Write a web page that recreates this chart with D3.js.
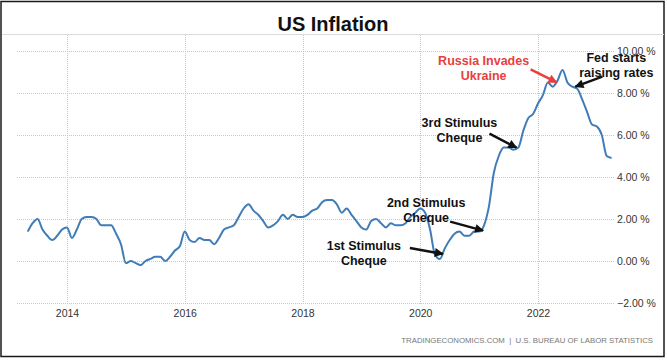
<!DOCTYPE html>
<html>
<head>
<meta charset="utf-8">
<script src="https://cdn.jsdelivr.net/npm/d3@7"></script>
<style>
  html, body { margin: 0; padding: 0; background: #fff; }
  svg { display: block; }
</style>
</head>
<body>
<svg id="chart" width="667" height="364"></svg>
<script>
// ---------------- DATA ----------------
const title = "US Inflation";
const source = "TRADINGECONOMICS.COM  |  U.S. BUREAU OF LABOR STATISTICS";
// US CPI YoY %, monthly (null = not shown)
const cpi2013 = [null, null, null, null, 1.4, 1.8, 2.0, 1.5, 1.2, 1.0, 1.2, 1.5];
const cpi2014 = [1.6, 1.1, 1.5, 2.0, 2.1, 2.1, 2.0, 1.7, 1.7, 1.7, 1.3, 0.8];
const cpi2015 = [-0.1, 0.0, -0.1, -0.2, 0.0, 0.1, 0.2, 0.2, 0.0, 0.2, 0.5, 0.7];
const cpi2016 = [1.4, 1.0, 0.9, 1.1, 1.0, 1.0, 0.8, 1.1, 1.5, 1.6, 1.7, 2.1];
const cpi2017 = [2.5, 2.7, 2.4, 2.2, 1.9, 1.6, 1.7, 1.9, 2.2, 2.0, 2.2, 2.1];
const cpi2018 = [2.1, 2.2, 2.4, 2.5, 2.8, 2.9, 2.9, 2.7, 2.3, 2.5, 2.2, 1.9];
const cpi2019 = [1.6, 1.5, 1.9, 2.0, 1.8, 1.6, 1.8, 1.7, 1.7, 1.8, 2.1, 2.3];
const cpi2020 = [2.5, 2.3, 1.5, 0.3, 0.1, 0.6, 1.0, 1.3, 1.4, 1.2, 1.2, 1.4];
const cpi2021 = [1.4, 1.7, 2.6, 4.2, 5.0, 5.4, 5.4, 5.3, 5.4, 6.2, 6.8, 7.0];
const cpi2022 = [7.5, 7.9, 8.5, 8.3, 8.6, 9.1, 8.5, 8.3, 8.2, 7.7, 7.1, 6.5];
const cpi2023 = [6.4, 6.0, 5.0, 4.9];
const seriesByYear = [
  [2013, cpi2013], [2014, cpi2014], [2015, cpi2015], [2016, cpi2016],
  [2017, cpi2017], [2018, cpi2018], [2019, cpi2019], [2020, cpi2020],
  [2021, cpi2021], [2022, cpi2022], [2023, cpi2023]
];
const xTicks = [2014, 2016, 2018, 2020, 2022];
const yTicks = [-2, 0, 2, 4, 6, 8, 10];

// annotations: target month on the line + label
const annotations = [
  { lines: ["1st Stimulus", "Cheque"], year: 2020, month: 5, color: "#111",
    tip: [3, -5], from: [-33, -6], text: [-79, -8] },
  { lines: ["2nd Stimulus", "Cheque"], year: 2021, month: 1, color: "#111",
    tip: [4, -1], from: [-33, -9], text: [-57, -28] },
  { lines: ["3rd Stimulus", "Cheque"], year: 2021, month: 8, color: "#111",
    tip: [3, -2], from: [-27, -14], text: [-57, -25] },
  { lines: ["Russia Invades", "Ukraine"], year: 2022, month: 5, color: "#e8403f",
    tip: [-1, 2], from: [-26, -13], text: [-73, -22] },
  { lines: ["Fed starts", "raising rates"], year: 2022, month: 8, color: "#111",
    tip: [3, 0], from: [27, -10], text: [41, -29] }
];

// ---------------- BUILD ----------------
const data = [];
seriesByYear.forEach(([yr, arr]) => {
  arr.forEach((v, i) => {
    if (v !== null) data.push({ t: yr + i / 12, v: v });
  });
});

const svg = d3.select("#chart");
const W = 667, H = 364;

const x = d3.scaleLinear().domain([2014, 2022]).range([67, 538]);
const y = d3.scaleLinear().domain([-2, 10]).range([303, 51]);

// frame
svg.append("rect").attr("x", 1).attr("y", 1.5).attr("width", 663).attr("height", 355)
  .attr("fill", "#fff").attr("stroke", "#1a1a1a").attr("stroke-width", 1.5);

// title
svg.append("text").attr("x", 333).attr("y", 31)
  .attr("text-anchor", "middle")
  .attr("font-family", "Liberation Sans, Arial, sans-serif")
  .attr("font-weight", "bold").attr("font-size", 20).attr("fill", "#111")
  .text(title);
svg.append("line").attr("x1", 2).attr("x2", 664).attr("y1", 34.5).attr("y2", 34.5)
  .attr("stroke", "#dcdcdc").attr("stroke-width", 1);

// grid
const gridG = svg.append("g");
gridG.selectAll("line.h").data(yTicks).enter().append("line")
  .attr("x1", 17).attr("x2", 614)
  .attr("y1", d => Math.round(y(d)) + 0.5).attr("y2", d => Math.round(y(d)) + 0.5)
  .attr("stroke", "#c8c8c8").attr("stroke-width", 1).attr("stroke-dasharray", "1,1");
gridG.selectAll("line.v").data(xTicks).enter().append("line")
  .attr("x1", d => Math.round(x(d)) + 0.5).attr("x2", d => Math.round(x(d)) + 0.5)
  .attr("y1", 35).attr("y2", 305)
  .attr("stroke", "#c8c8c8").attr("stroke-width", 1).attr("stroke-dasharray", "1,1");

// axes
const yAxis = d3.axisRight(y).tickValues(yTicks).tickSize(0).tickPadding(0)
  .tickFormat(d => d3.format(".2f")(d) + " %");
const yG = svg.append("g").attr("transform", "translate(617,0)").call(yAxis);
yG.select(".domain").remove();
yG.selectAll("text").attr("font-family", "Liberation Sans, Arial, sans-serif")
  .attr("font-size", 10.5).attr("fill", "#333").attr("dy", "0.35em");

const xAxis = d3.axisBottom(x).tickValues(xTicks).tickSize(0).tickPadding(0)
  .tickFormat(d3.format("d"));
const xG = svg.append("g").attr("transform", "translate(0,310)").call(xAxis);
xG.select(".domain").remove();
xG.selectAll("text").attr("font-family", "Liberation Sans, Arial, sans-serif")
  .attr("font-size", 10.5).attr("fill", "#333").attr("dy", "0.71em");

// line
const line = d3.line().x(d => x(d.t)).y(d => y(d.v)).curve(d3.curveMonotoneX);
svg.append("path").datum(data).attr("d", line)
  .attr("fill", "none").attr("stroke", "#3f7cb8").attr("stroke-width", 2)
  .attr("stroke-linejoin", "round");

// arrow markers
const defs = svg.append("defs");
[["arrBlack", "#111"], ["arrRed", "#e8403f"]].forEach(([id, c]) => {
  defs.append("marker").attr("id", id)
    .attr("viewBox", "0 0 10 10").attr("refX", 9).attr("refY", 5)
    .attr("markerUnits", "userSpaceOnUse")
    .attr("markerWidth", 10).attr("markerHeight", 9)
    .attr("orient", "auto")
    .append("path").attr("d", "M0,0 L10,5 L0,10 z").attr("fill", c);
});

// annotations
const annG = svg.append("g");
annotations.forEach(a => {
  const px = x(a.year + (a.month - 1) / 12);
  const py = y(data.find(d => Math.abs(d.t - (a.year + (a.month - 1) / 12)) < 1e-6).v);
  const tx = px + a.tip[0], ty = py + a.tip[1];
  annG.append("line")
    .attr("x1", tx + a.from[0]).attr("y1", ty + a.from[1])
    .attr("x2", tx).attr("y2", ty)
    .attr("stroke", a.color).attr("stroke-width", 2.5)
    .attr("marker-end", a.color === "#111" ? "url(#arrBlack)" : "url(#arrRed)");
  const t = annG.append("text")
    .attr("text-anchor", "middle")
    .attr("font-family", "Liberation Sans, Arial, sans-serif")
    .attr("font-weight", "bold").attr("font-size", 12.5).attr("fill", a.color);
  a.lines.forEach((s, i) => {
    t.append("tspan").attr("x", tx + a.text[0]).attr("y", ty + a.text[1] + i * 15 + 4.5).text(s);
  });
});

// source
svg.append("text").attr("x", 653).attr("y", 343)
  .attr("text-anchor", "end")
  .attr("font-family", "Liberation Sans, Arial, sans-serif")
  .attr("font-size", 7.8).attr("fill", "#777").attr("xml:space", "preserve")
  .text(source);
</script>
</body>
</html>
